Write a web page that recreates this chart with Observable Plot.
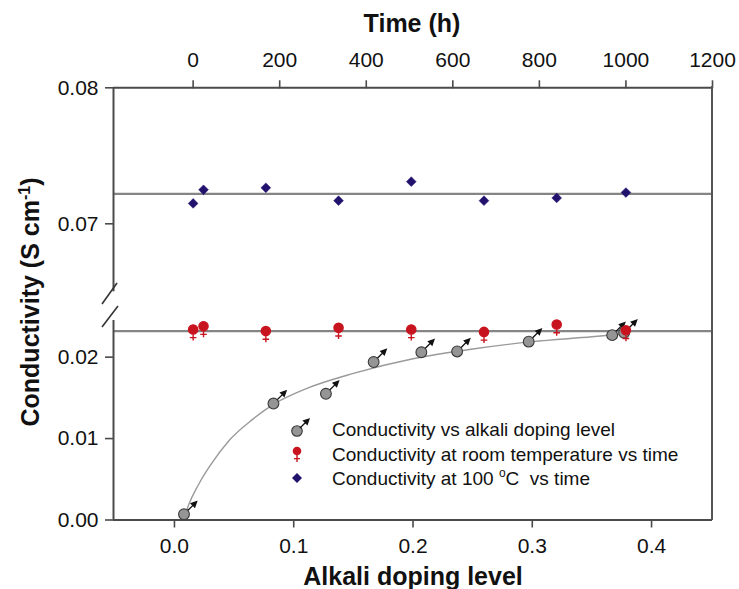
<!DOCTYPE html>
<html>
<head>
<meta charset="utf-8">
<script src="https://cdn.jsdelivr.net/npm/d3@7"></script>
<script src="https://cdn.jsdelivr.net/npm/@observablehq/plot@0.6"></script>
<style>
  html, body { margin: 0; padding: 0; background: #fff; }
  #chart { position: relative; width: 739px; height: 589px; overflow: hidden;
           font-family: "Liberation Sans", Arial, sans-serif; color: #111; background: #fff; }
  #chart > svg { position: absolute; left: 0; top: 0; }
  .title { position: absolute; font-weight: bold; font-size: 25px; white-space: nowrap;
           transform: translate(-50%, -50%); line-height: 1; }
  .ytitle { transform: translate(-50%, -50%) rotate(-90deg); }
  .ytitle sup { font-size: 16px; vertical-align: 9px; line-height: 0; }
  .legend-row { position: absolute; left: 332px; font-size: 19px; line-height: 1; white-space: nowrap;
                transform: translateY(-50%); }
  .legend-row sup { font-size: 12px; vertical-align: 8px; line-height: 0; }
  .legend-icon { position: absolute; overflow: visible; }
  .edge { position: absolute; background: #555; }
</style>
</head>
<body>
<div id="chart"></div>
<script>
// ---------------- data ----------------
const timeHours   = [0, 24, 168, 336, 504, 672, 840, 1000];
const cond100C    = [0.0715, 0.0725, 0.07265, 0.0717, 0.0731, 0.0717, 0.0719, 0.0723];
const condRoomT   = [0.0234, 0.0238, 0.0232, 0.0236, 0.0234, 0.0231, 0.0240, 0.0233];
const dopingLevel = [0.008, 0.083, 0.127, 0.167, 0.207, 0.237, 0.297, 0.367, 0.377];
const condDoping  = [0.0007, 0.0143, 0.0155, 0.0194, 0.0206, 0.0207, 0.0219, 0.0227, 0.0230];
// fitted curve
const fitDoping   = [0.009, 0.012, 0.02, 0.03, 0.046, 0.065, 0.083, 0.11, 0.15, 0.2, 0.25, 0.3, 0.35, 0.38];
const fitCond     = [0.0006, 0.0019, 0.0043, 0.0067, 0.0098, 0.0123, 0.0142, 0.0161, 0.0180, 0.0198, 0.0210, 0.0219, 0.0225, 0.0229];
const mean100C    = [0.0722];
const meanRoomT   = [0.0232];

const timeTicks   = [0, 200, 400, 600, 800, 1000, 1200];
const dopingTicks = [0.0, 0.1, 0.2, 0.3, 0.4];
const upperTicks  = [0.07, 0.08];
const lowerTicks  = [0.00, 0.01, 0.02];

const timeDomain   = [-184, 1200];
const dopingDomain = [-0.0511, 0.4511];
const upperDomain  = [0.065, 0.08];
const lowerDomain  = [0, 0.0245];

const legendLabels = [
  "Conductivity vs alkali doping level",
  "Conductivity at room temperature vs time",
  "Conductivity at 100 <sup>o</sup>C&nbsp; vs time"
];

// ---------------- tables ----------------
const blueData = timeHours.map((t, i) => ({t, c: cond100C[i]}));
const redData  = timeHours.map((t, i) => ({t, c: condRoomT[i]}));
const grayData = dopingLevel.map((a, i) => ({a, c: condDoping[i]}));
const fitData  = fitDoping.map((a, i) => ({a, c: fitCond[i]}));

// ---------------- styles ----------------
const W = 739, H = 589;
const FONT = "'Liberation Sans', Arial, sans-serif";
const AX = "#4a4a4a";
const MEAN = "#858585";
const BLUE = "#22126e";
const RED = "#c8141f";
const GRAY = "#959595";

const maleArrow = {
  draw(ctx) {
    ctx.moveTo(3, -3); ctx.lineTo(9.2, -9.2);
    ctx.moveTo(12.6, -12.6); ctx.lineTo(7.2, -10.7); ctx.lineTo(10.7, -7.2); ctx.closePath();
  }
};
const femaleSym = {
  draw(ctx) {
    const r = 4.6;
    ctx.moveTo(r, 0); ctx.arc(0, 0, r, 0, 2 * Math.PI);
    ctx.moveTo(0, r); ctx.lineTo(0, r + 6.5);
    ctx.moveTo(-3.3, r + 3.6); ctx.lineTo(3.3, r + 3.6);
  }
};

const baseStyle = {background: "transparent", fontFamily: FONT, fontSize: "21px", color: "#111", overflow: "visible"};
const upperTop = 87.3, upperBottom = 291.3, lowerTop = 320, lowerBottom = 519.5;

// lower segment, alkali doping axis
const plotLower = Plot.plot({
  width: W, height: H,
  marginLeft: 113, marginRight: 27, marginTop: lowerTop, marginBottom: H - lowerBottom,
  x: {domain: dopingDomain},
  y: {domain: lowerDomain},
  style: baseStyle,
  marks: [
    Plot.ruleY(meanRoomT, {stroke: MEAN, strokeWidth: 2.2}),
    Plot.ruleY([lowerDomain[0]], {stroke: AX, strokeWidth: 2}),
    Plot.ruleX([dopingDomain[0]], {stroke: AX, strokeWidth: 2}),
    Plot.axisX({anchor: "bottom", ticks: dopingTicks, tickFormat: d3.format(".1f"), tickSize: 8, tickPadding: 10,
                label: null, stroke: AX, strokeWidth: 1.6, fill: "#111"}),
    Plot.axisY({anchor: "left", ticks: lowerTicks, tickFormat: d3.format(".2f"), tickSize: 8, tickPadding: 7,
                label: null, stroke: AX, strokeWidth: 1.6, fill: "#111"}),
    Plot.line(fitData, {x: "a", y: "c", curve: "monotone-x", stroke: "#9a9a9a", strokeWidth: 1.4}),
    Plot.dot(grayData, {x: "a", y: "c", symbol: maleArrow, fill: "#111", stroke: "#111", strokeWidth: 1.3}),
    Plot.dot(grayData, {x: "a", y: "c", r: 5.4, fill: GRAY, stroke: "#3a3a3a", strokeWidth: 1.1})
  ]
});

// lower segment, time axis (room temperature)
const plotRoom = Plot.plot({
  width: W, height: H,
  marginLeft: 113, marginRight: 27, marginTop: lowerTop, marginBottom: H - lowerBottom,
  x: {domain: timeDomain, axis: null},
  y: {domain: lowerDomain, axis: null},
  style: baseStyle,
  marks: [
    Plot.dot(redData, {x: "t", y: "c", symbol: femaleSym, fill: RED, stroke: RED, strokeWidth: 1.4})
  ]
});

// upper segment, time axis (100 °C)
const plotUpper = Plot.plot({
  width: W, height: H,
  marginLeft: 113, marginRight: 27, marginTop: upperTop, marginBottom: H - upperBottom,
  x: {domain: timeDomain},
  y: {domain: upperDomain},
  style: baseStyle,
  marks: [
    Plot.ruleY(mean100C, {stroke: MEAN, strokeWidth: 2.2}),
    Plot.ruleY([upperDomain[1]], {stroke: AX, strokeWidth: 2}),
    Plot.ruleX([timeDomain[0]], {stroke: AX, strokeWidth: 2}),
    Plot.axisX({anchor: "top", ticks: timeTicks, tickFormat: d3.format("d"), tickSize: 8, tickPadding: 13,
                label: null, stroke: AX, strokeWidth: 1.6, fill: "#111"}),
    Plot.axisY({anchor: "left", ticks: upperTicks, tickFormat: d3.format(".2f"), tickSize: 8, tickPadding: 7,
                label: null, stroke: AX, strokeWidth: 1.6, fill: "#111"}),
    Plot.dot(blueData, {x: "t", y: "c", symbol: "diamond2", r: 4.4, fill: BLUE, stroke: BLUE, strokeWidth: 0.5})
  ]
});

const chart = document.getElementById("chart");
chart.append(plotLower, plotRoom, plotUpper);

// right frame edge (continuous across the break)
const edge = document.createElement("div");
edge.className = "edge";
Object.assign(edge.style, {left: "711px", top: upperTop - 1 + "px", width: "2px", height: (lowerBottom - upperTop + 2) + "px"});
chart.append(edge);

// axis-break slashes
const ns = "http://www.w3.org/2000/svg";
const brk = document.createElementNS(ns, "svg");
brk.setAttribute("width", W); brk.setAttribute("height", H);
[[102, 304, 117, 283], [102, 327, 118, 306]].forEach(([x1, y1, x2, y2]) => {
  const l = document.createElementNS(ns, "line");
  l.setAttribute("x1", x1); l.setAttribute("y1", y1); l.setAttribute("x2", x2); l.setAttribute("y2", y2);
  l.setAttribute("stroke", "#333"); l.setAttribute("stroke-width", 1.6);
  brk.append(l);
});
chart.append(brk);

// titles
function addTitle(html, x, y, cls) {
  const d = document.createElement("div");
  d.className = "title" + (cls ? " " + cls : "");
  d.innerHTML = html;
  d.style.left = x + "px"; d.style.top = y + "px";
  chart.append(d);
}
addTitle("Time (h)", 412, 23);
addTitle("Alkali doping level", 413, 576);
addTitle("Conductivity (S cm<sup>-1</sup>)", 30, 302, "ytitle");

// legend
const rowY = [429, 453.5, 478];
const icons = [
  `<circle cx="0" cy="2" r="5.3" fill="${GRAY}" stroke="#3a3a3a" stroke-width="1.1"/>
   <path d="M3,-1 L8.5,-6.5 M12,-10 L6.6,-8.2 L10.2,-4.6 Z" stroke="#111" fill="#111" stroke-width="1.3"/>`,
  `<circle cx="0" cy="-3" r="4.3" fill="${RED}"/>
   <path d="M0,1 V8 M-3,4.6 H3" stroke="${RED}" stroke-width="1.4"/>`,
  `<path d="M0,-5 L5,0 L0,5 L-5,0 Z" fill="${BLUE}"/>`
];
legendLabels.forEach((lab, i) => {
  const s = document.createElementNS(ns, "svg");
  s.setAttribute("class", "legend-icon");
  s.setAttribute("width", 30); s.setAttribute("height", 30);
  s.setAttribute("viewBox", "-15 -15 30 30");
  s.style.left = (297 - 15) + "px"; s.style.top = (rowY[i] - 15) + "px";
  s.innerHTML = icons[i];
  chart.append(s);
  const t = document.createElement("div");
  t.className = "legend-row";
  t.style.top = rowY[i] + "px";
  t.innerHTML = lab;
  chart.append(t);
});
</script>
</body>
</html>
